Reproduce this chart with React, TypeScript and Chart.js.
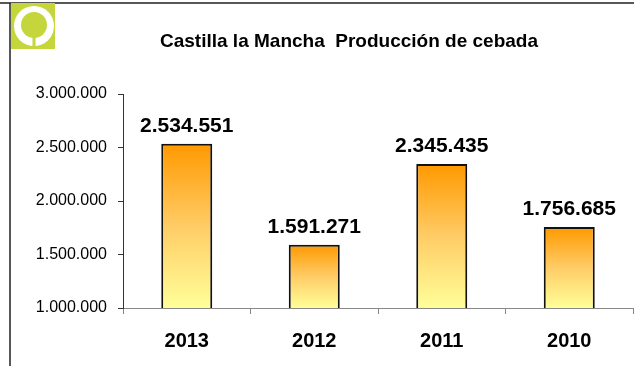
import React, { useEffect, useRef } from "react";
import { Chart, registerables } from "chart.js";

Chart.register(...registerables);

const categories = ["2013", "2012", "2011", "2010"];
const production = [2534551, 1591271, 2345435, 1756685];
const yMin = 1000000;
const yMax = 3000000;
const yStep = 500000;
const titleText = "Castilla la Mancha  Producción de cebada";

const fmt = (v: number) => {
  const s = Math.round(v).toString();
  return s.replace(/\B(?=(\d{3})+(?!\d))/g, ".");
};

const FONT = "Arial, 'Liberation Sans', sans-serif";

const decorPlugin = {
  id: "decor",
  beforeDraw(chart: any) {
    const ctx = chart.ctx;
    ctx.save();
    ctx.fillStyle = "#ffffff";
    ctx.fillRect(0, 0, chart.width, chart.height);
    // frame lines
    ctx.strokeStyle = "#222222";
    ctx.lineWidth = 1.5;
    ctx.beginPath();
    ctx.moveTo(0, 3);
    ctx.lineTo(chart.width, 3);
    ctx.moveTo(10, 3);
    ctx.lineTo(10, chart.height);
    ctx.stroke();
    // logo
    ctx.fillStyle = "#c4d63b";
    ctx.fillRect(11, 3, 44, 46);
    ctx.fillStyle = "#ffffff";
    ctx.beginPath();
    ctx.arc(34, 26, 20, 0, Math.PI * 2);
    ctx.fill();
    ctx.fillStyle = "#c4d63b";
    ctx.beginPath();
    ctx.arc(34, 25, 13, 0, Math.PI * 2);
    ctx.fill();
    ctx.fillRect(32.5, 30, 3, 19);
    // title
    ctx.fillStyle = "#000000";
    ctx.font = "bold 19px " + FONT;
    ctx.textAlign = "center";
    ctx.textBaseline = "alphabetic";
    ctx.fillText(titleText, 349, 47);
    ctx.restore();
  },
  afterDatasetsDraw(chart: any) {
    const ctx = chart.ctx;
    const meta = chart.getDatasetMeta(0);
    ctx.save();
    ctx.fillStyle = "#000000";
    ctx.font = "bold 21px " + FONT;
    ctx.textAlign = "center";
    ctx.textBaseline = "alphabetic";
    meta.data.forEach((bar: any, i: number) => {
      ctx.fillText(fmt(production[i]), bar.x, bar.y - 12);
    });
    ctx.restore();
  },
};

export default function App() {
  const ref = useRef<HTMLCanvasElement | null>(null);
  useEffect(() => {
    document.body.style.margin = "0";
    const canvas = ref.current;
    if (!canvas) return;
    const chart = new Chart(canvas, {
      type: "bar",
      data: {
        labels: categories,
        datasets: [
          {
            data: production,
            backgroundColor: (c: any) => {
              const ch = c.chart;
              const area = ch.chartArea;
              if (!area || c.parsed == null) return "#ffcc66";
              const yScale = ch.scales.y;
              const top = yScale.getPixelForValue(c.parsed.y);
              const g = ch.ctx.createLinearGradient(0, top, 0, area.bottom);
              g.addColorStop(0, "#ff9900");
              g.addColorStop(0.5, "#ffcc66");
              g.addColorStop(1, "#ffff99");
              return g;
            },
            borderColor: "#111111",
            borderWidth: 2,
            borderSkipped: false,
            barPercentage: 0.4,
            categoryPercentage: 1,
          },
        ],
      },
      options: {
        responsive: false,
        animation: false,
        layout: { padding: { left: 0, right: 1, top: 94, bottom: 0 } },
        plugins: {
          legend: { display: false },
          title: { display: false },
          tooltip: { enabled: false },
        },
        scales: {
          x: {
            grid: {
              display: true,
              drawOnChartArea: false,
              drawTicks: true,
              tickLength: 6,
              offset: true,
              color: "#888888",
            },
            border: { color: "#888888", width: 1 },
            ticks: {
              color: "#000000",
              font: { family: FONT, size: 20, weight: "bold" },
              padding: 15,
            },
            afterFit: (s: any) => {
              s.height = 58;
            },
          },
          y: {
            min: yMin,
            max: yMax,
            grid: {
              display: true,
              drawOnChartArea: false,
              drawTicks: true,
              tickLength: 5,
              color: "#333333",
            },
            border: { color: "#333333", width: 1 },
            ticks: {
              stepSize: yStep,
              color: "#000000",
              font: { family: FONT, size: 16 },
              padding: 11,
              callback: (v: any) => fmt(Number(v)),
            },
            afterFit: (s: any) => {
              s.width = 123;
            },
          },
        },
      },
      plugins: [decorPlugin],
    });
    return () => chart.destroy();
  }, []);
  return (
    <div style={{ width: 634, height: 366 }}>
      <canvas ref={ref} width={634} height={366} style={{ display: "block" }} />
    </div>
  );
}
